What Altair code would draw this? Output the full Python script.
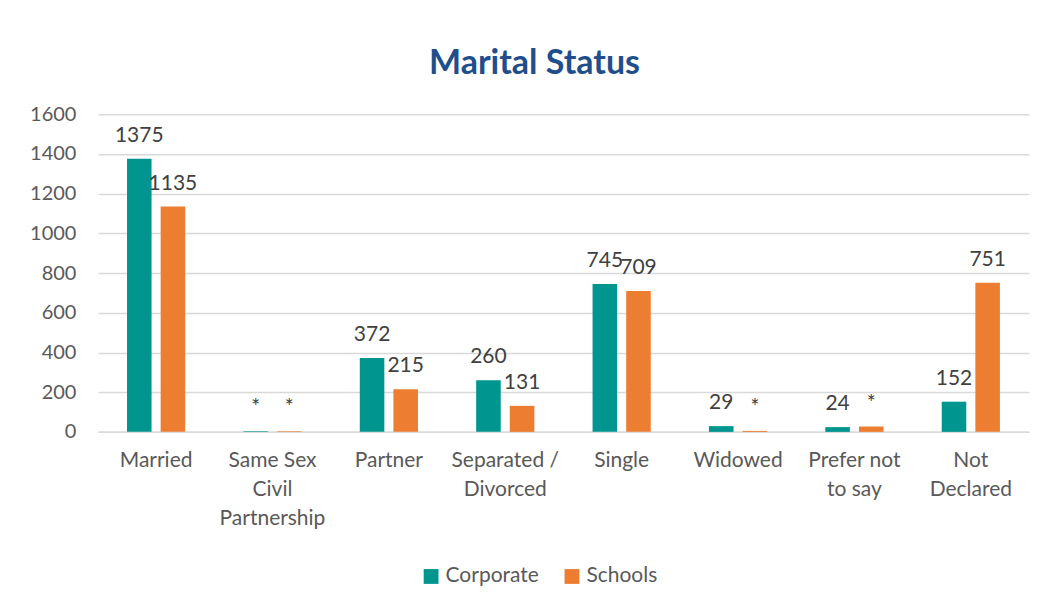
import altair as alt
import pandas as pd

categories = ["Married", "Same Sex\nCivil\nPartnership", "Partner", "Separated /\nDivorced",
              "Single", "Widowed", "Prefer not\nto say", "Not\nDeclared"]
corporate = [1375, 3, 372, 260, 745, 29, 24, 152]
schools = [1135, 3, 215, 131, 709, 5, 27, 751]
corporate_labels = ["1375", "*", "372", "260", "745", "29", "24", "152"]
schools_labels = ["1135", "*", "215", "131", "709", "*", "*", "751"]
series = ["Corporate", "Schools"]
colors = ["#00968F", "#ED7D31"]

rows = []
for i, c in enumerate(categories):
    rows.append({"cat": c, "series": "Corporate", "value": corporate[i], "label": corporate_labels[i]})
    rows.append({"cat": c, "series": "Schools", "value": schools[i], "label": schools_labels[i]})
df = pd.DataFrame(rows)

FONT = "Lato"

x = alt.X("cat:N", sort=categories, title=None,
          scale=alt.Scale(paddingInner=0.5, paddingOuter=0.25),
          axis=alt.Axis(labelAngle=0, labelExpr="split(datum.label, '\\n')",
                        labelFontSize=21, labelColor="#595959", labelPadding=18,
                        labelLineHeight=29, ticks=False, domainColor="#d9d9d9",
                        domainWidth=1.5, labelFont=FONT, labelBaseline="top"))
xo = alt.XOffset("series:N", sort=series, scale=alt.Scale(paddingInner=0.27))
y = alt.Y("value:Q", title=None,
          scale=alt.Scale(domain=[0, 1600]),
          axis=alt.Axis(values=list(range(0, 1601, 200)), format="d", labelFontSize=20,
                        labelColor="#595959", labelPadding=22, domain=False, ticks=False,
                        gridColor="#d9d9d9", gridWidth=1.5, labelFont=FONT))

base = alt.Chart(df)
bars = base.mark_bar().encode(
    x=x, xOffset=xo, y=y,
    color=alt.Color("series:N", sort=series, title=None,
                    scale=alt.Scale(domain=series, range=colors),
                    legend=alt.Legend(orient="none", legendX=323, legendY=452,
                                      direction="horizontal", symbolType="square",
                                      symbolSize=220, labelFontSize=21, labelColor="#595959",
                                      labelFont=FONT, columnPadding=22, symbolStrokeWidth=0))
)
labels = base.mark_text(baseline="bottom", dy=-13, fontSize=21, color="#404040", font=FONT).encode(
    x=x, xOffset=xo, y=y, text="label:N"
)

chart = alt.layer(bars, labels).properties(
    width=932, height=318,
    background="white",
    title=alt.TitleParams("Marital Status", fontSize=34, font=FONT, fontWeight="bold",
                          color="#1F4E8C", anchor="middle", dx=-29, offset=23),
    autosize=alt.AutoSizeParams(type="none"),
    padding={"left": 90, "top": 106, "right": 10, "bottom": 160},
).configure_view(stroke=None)

chart.save("out.html", embed_options={"renderer": "svg", "actions": False})
